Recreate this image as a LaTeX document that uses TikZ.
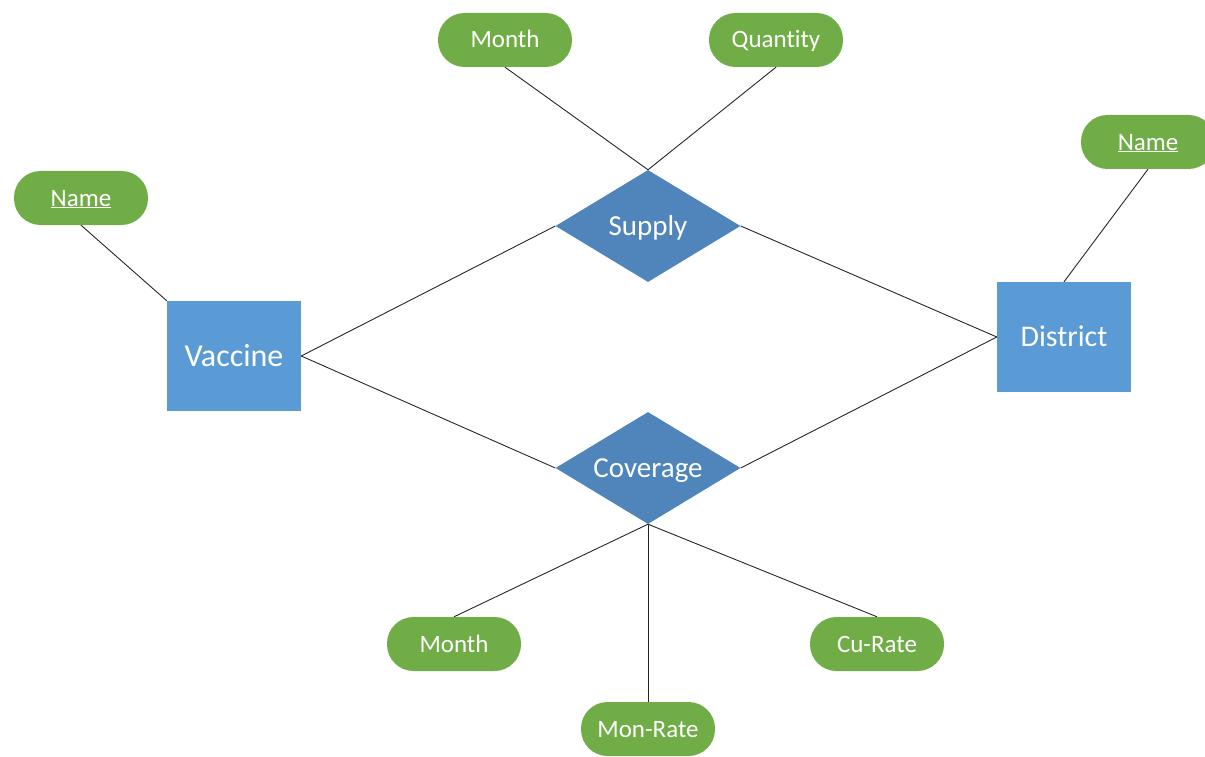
\documentclass[tikz,border=0pt]{standalone}
\usepackage{fontspec}
\setmainfont{Carlito}[Ligatures={NoCommon}, RawFeature={-calt}]
\usetikzlibrary{shapes.geometric}
\definecolor{attrgreen}{HTML}{70AD47}
\definecolor{entblue}{HTML}{5B9BD5}
\definecolor{relblue}{HTML}{4F85BA}
\tikzset{
  attr/.style={rectangle, rounded corners=26.5pt, fill=attrgreen, minimum width=134pt, minimum height=54pt, inner sep=0pt, text=white, font=\fontsize{25}{25}\selectfont, text height=16pt, text depth=0pt},
  entity/.style={rectangle, fill=entblue, minimum width=134pt, minimum height=110pt, inner sep=0pt, text=white, font=\fontsize{30}{30}\selectfont, text height=19pt, text depth=0pt},
  rel/.style={diamond, aspect=1.65, fill=relblue, minimum width=185pt, minimum height=112pt, inner sep=0pt, text=white, font=\fontsize{29}{29}\selectfont, text height=18pt, text depth=0pt},
  link/.style={draw=black!85, line width=0.9pt}
}
\begin{document}
\begin{tikzpicture}[x=1pt,y=-1pt]
\useasboundingbox (0,0) rectangle (1205,757);
\begin{scope}
\clip (0,0) rectangle (1205,757);
\node[entity, font=\fontsize{32}{32}\selectfont, text height=20pt] (vac) at (234,356) {Vaccine};
\node[entity] (dis) at (1064,337) {District};
\node[rel] (sup) at (648,226) {Supply};
\node[rel] (cov) at (648,468) {Coverage};
\node[attr] (vname) at (81,198) {\underline{Name}};
\node[attr] (dname) at (1148,142) {\underline{Name}};
\node[attr] (smonth) at (505,40) {Month};
\node[attr] (qty) at (776,40) {Quant\kern0pt ity};
\node[attr] (cmonth) at (454,644) {Month};
\node[attr] (curate) at (877,644) {Cu-Rate};
\node[attr] (monrate) at (648,729) {Mon-Rate};
\end{scope}
\draw[link] (vname.south) -- (vac.north west);
\draw[link] (dname.south) -- (dis.north);
\draw[link] (vac.east) -- (sup.west);
\draw[link] (vac.east) -- (cov.west);
\draw[link] (sup.east) -- (dis.west);
\draw[link] (cov.east) -- (dis.west);
\draw[link] (smonth.south) -- (sup.north);
\draw[link] (qty.south) -- (sup.north);
\draw[link] (cov.south) -- (cmonth.north);
\draw[link] (cov.south) -- (monrate.north);
\draw[link] (cov.south) -- (curate.north);
\end{tikzpicture}
\end{document}
